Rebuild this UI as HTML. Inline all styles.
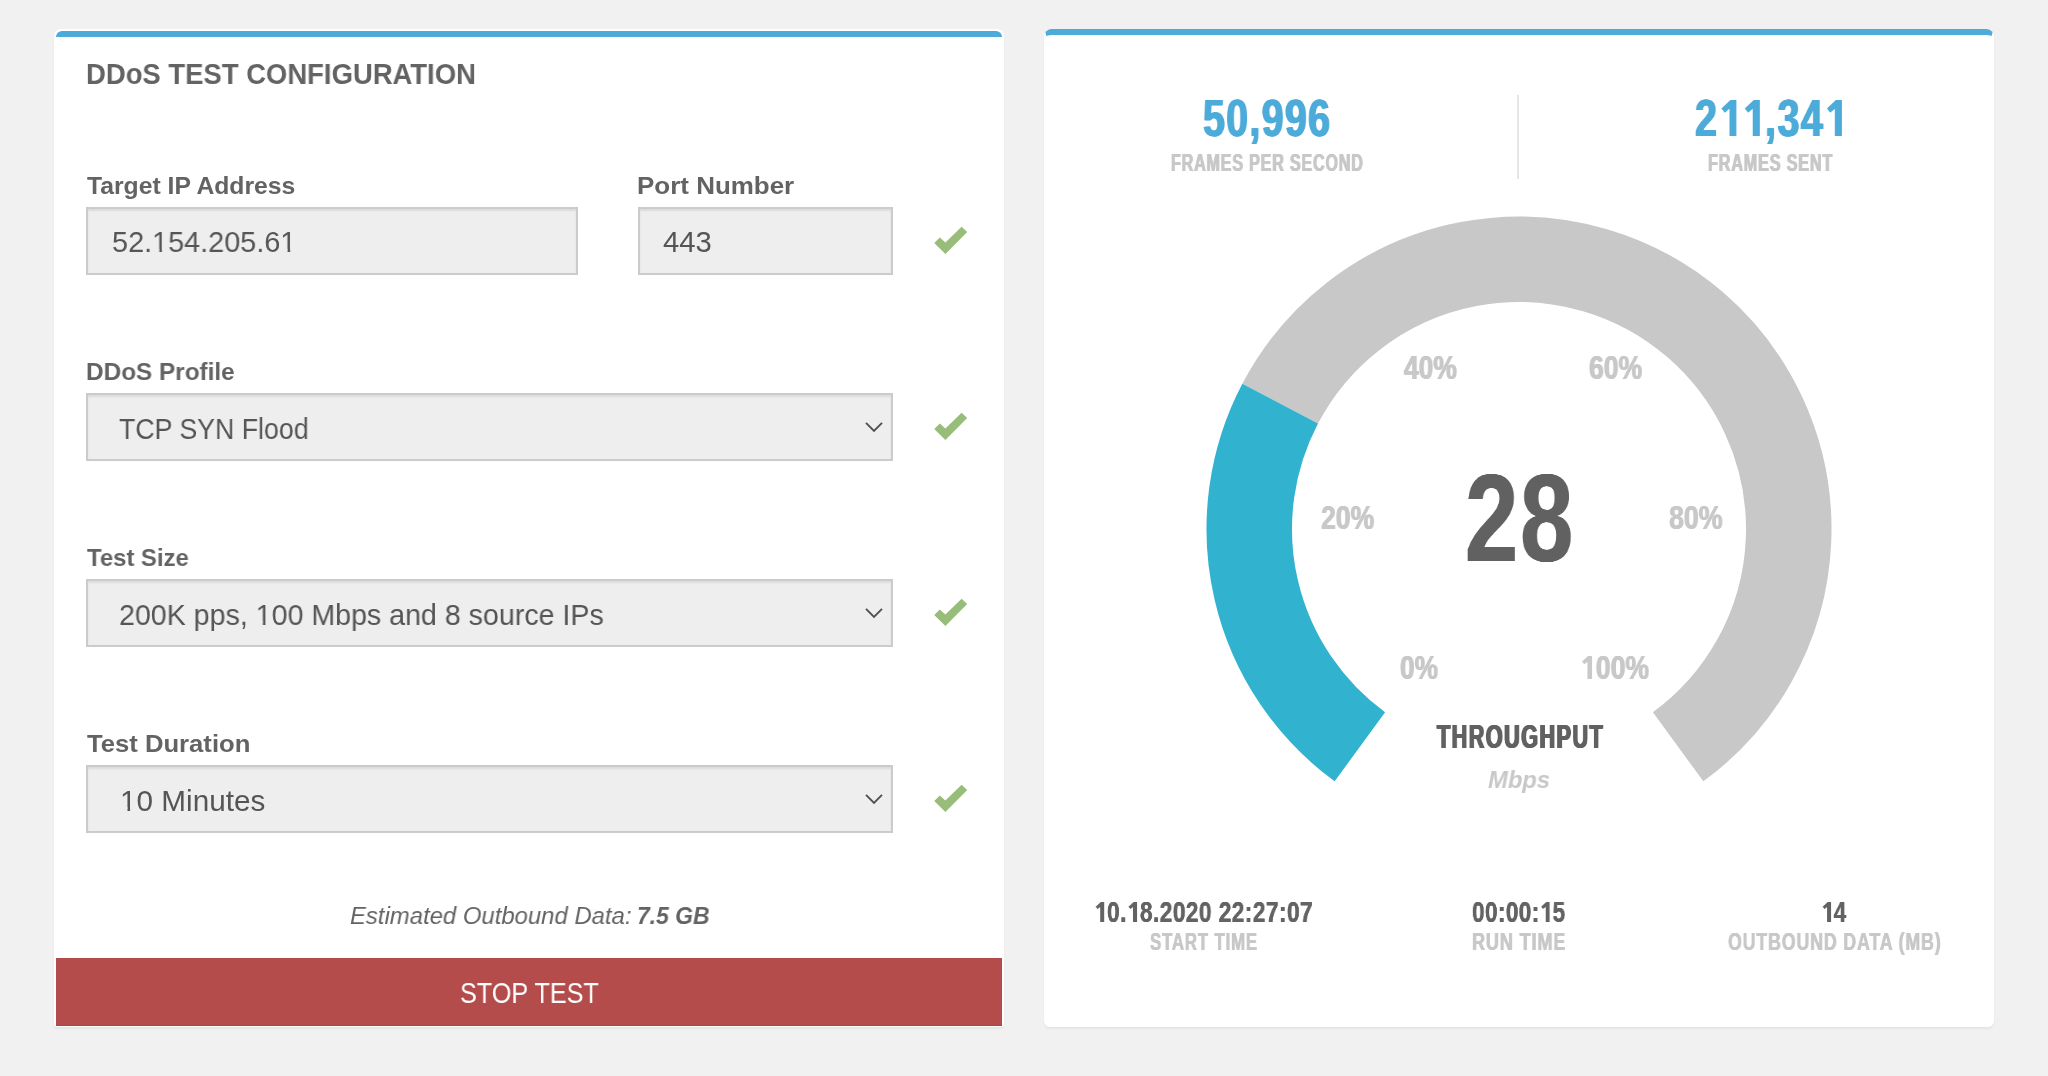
<!DOCTYPE html>
<html lang="en">
<head>
<meta charset="utf-8">
<title>DDoS Test</title>
<style>
html,body{margin:0;padding:0}
body{width:2048px;height:1076px;background:#f1f1f1;position:relative;overflow:hidden;font-family:"Liberation Sans",sans-serif}
.t{position:absolute;white-space:nowrap;line-height:1;transform-origin:0 0;display:block;will-change:transform}
.t b{font-weight:bold}
i.q{font-style:normal;display:inline-block;line-height:1;clip-path:polygon(0 0,.340em 0,.340em 100%,.2515em 100%,.2515em .72em,0 .72em)}
i.h{font-size:0}
svg.o{display:inline-block;vertical-align:baseline;width:.556em;height:var(--h,.688em);fill:currentColor}
.panel{position:absolute;background:#fff;box-shadow:0 2px 2px rgba(0,0,0,.05)}
#cfg{left:54px;top:29px;width:950px;height:998px;border-radius:7px 7px 3px 3px}
#cfg .bar{position:absolute;left:2px;top:2px;width:946px;height:6px;background:#4cabd9;border-radius:6px 6px 0 0}
#stats{left:1044px;top:29px;width:946px;height:990px;border:2px solid #fff;border-top:6px solid #4cabd9;border-radius:8px 8px 6px 6px}
.fld{position:absolute;box-sizing:border-box;height:68px;background:#eee;border:2px solid #cbcbcb;box-shadow:inset 0 2px 2px rgba(0,0,0,.075)}
.ok{position:absolute;left:879px}
.chev{position:absolute;right:7px;top:26px}
#stopbtn{position:absolute;left:2px;top:929px;width:946px;height:68px;box-sizing:border-box;background:#b34c4b;border-bottom:1px solid #a94442}
#divider{position:absolute;left:471px;top:60px;width:2px;height:84px;background:#e6e6e6}
#gauge{position:absolute;left:0;top:0}
</style>
</head>
<body>
<div class="panel" id="cfg">
<div class="bar"></div>
<span class="t" id="title" style="left:32.11px;top:31.00px;font-size:29.0px;font-weight:bold;color:#636363;transform:scaleX(0.9466)">DDoS TEST CONFIGURATION</span>
<span class="t" id="l1" style="left:32.80px;top:145.00px;font-size:24.5px;font-weight:bold;color:#636363;transform:scaleX(1.0087)">Target IP Address</span>
<div class="fld" style="left:32px;top:178px;width:492px"></div>
<span class="t" id="v1" style="left:58.11px;top:199.00px;font-size:29.0px;color:#555555;transform:scaleX(0.9938)">52.<i class="q">1</i>54.205.6<i class="q">1</i></span>
<span class="t" id="l1b" style="left:582.88px;top:145.00px;font-size:24.5px;font-weight:bold;color:#636363;transform:scaleX(1.0596)">Port Number</span>
<div class="fld" style="left:584px;top:178px;width:255px"></div>
<span class="t" id="v1b" style="left:609.19px;top:199.00px;font-size:29.0px;color:#555555;transform:scaleX(1.0087)">443</span>
<svg class="ok" style="top:197px" width="36" height="30" viewBox="0 0 36 30"><path d="M28.6 0.8L34.2 6.1L12.4 28L1.25 16.9L6.8 11.4L12.4 16.4Z" fill="#98bc7a"/></svg>
<span class="t" id="l2" style="left:31.76px;top:331.00px;font-size:24.5px;font-weight:bold;color:#636363;transform:scaleX(0.9932)">DDoS Profile</span>
<div class="fld" style="left:32px;top:364px;width:807px"><svg class="chev" width="20" height="12" viewBox="0 0 20 12"><path d="M2 1.8L10 9.8L18 1.8" fill="none" stroke="#505050" stroke-width="1.9"/></svg></div>
<span class="t" id="v2" style="left:65.09px;top:384.80px;font-size:29.5px;color:#555555;transform:scaleX(0.9058)">TCP SYN Flood</span>
<svg class="ok" style="top:383px" width="36" height="30" viewBox="0 0 36 30"><path d="M28.6 0.8L34.2 6.1L12.4 28L1.25 16.9L6.8 11.4L12.4 16.4Z" fill="#98bc7a"/></svg>
<span class="t" id="l3" style="left:33.00px;top:517.00px;font-size:24.5px;font-weight:bold;color:#636363;transform:scaleX(0.9750)">Test Size</span>
<div class="fld" style="left:32px;top:550px;width:807px"><svg class="chev" width="20" height="12" viewBox="0 0 20 12"><path d="M2 1.8L10 9.8L18 1.8" fill="none" stroke="#505050" stroke-width="1.9"/></svg></div>
<span class="t" id="v3" style="left:65.43px;top:570.80px;font-size:29.5px;color:#555555;transform:scaleX(0.9691)">200K pps, <i class="q">1</i>00 Mbps and 8 source IPs</span>
<svg class="ok" style="top:569px" width="36" height="30" viewBox="0 0 36 30"><path d="M28.6 0.8L34.2 6.1L12.4 28L1.25 16.9L6.8 11.4L12.4 16.4Z" fill="#98bc7a"/></svg>
<span class="t" id="l4" style="left:32.80px;top:703.00px;font-size:24.5px;font-weight:bold;color:#636363;transform:scaleX(1.0465)">Test Duration</span>
<div class="fld" style="left:32px;top:736px;width:807px"><svg class="chev" width="20" height="12" viewBox="0 0 20 12"><path d="M2 1.8L10 9.8L18 1.8" fill="none" stroke="#505050" stroke-width="1.9"/></svg></div>
<span class="t" id="v4" style="left:65.58px;top:757.00px;font-size:29.5px;color:#555555;transform:scaleX(1.0071)"><i class="q">1</i>0 Minutes</span>
<svg class="ok" style="top:755px" width="36" height="30" viewBox="0 0 36 30"><path d="M28.6 0.8L34.2 6.1L12.4 28L1.25 16.9L6.8 11.4L12.4 16.4Z" fill="#98bc7a"/></svg>
<span class="t" id="est" style="left:295.53px;top:874.80px;font-size:24.5px;font-style:italic;color:#636363;transform:scaleX(0.9749)">Estimated Outbound Data:</span>
<span class="t" id="est2" style="left:582.59px;top:874.80px;font-size:24.0px;font-weight:bold;font-style:italic;color:#636363;transform:scaleX(0.9534)">7.5 GB</span>
<div id="stopbtn"></div>
<span class="t" id="stop" style="left:405.63px;top:950.20px;font-size:29.0px;color:#ffffff;transform:scaleX(0.8703)">STOP TEST</span>
</div>
<div class="panel" id="stats">
<svg id="gauge" width="946" height="990" viewBox="1046 35 946 990">
<path d="M1280.17 403.61A269.75 269.75 0 1 1 1678.13 746.82" fill="none" stroke="#c8c8c8" stroke-width="85.5"/>
<path d="M1359.87 746.82A269.75 269.75 0 0 1 1280.17 403.61" fill="none" stroke="#31b2cf" stroke-width="85.5"/>
</svg>
<div id="divider"></div>
<span class="t" id="fps" style="left:156.95px;top:56.70px;font-size:52.5px;font-weight:bold;color:#4cabd9;letter-spacing:0.035em;text-shadow:1.00px 0 0 #4cabd9,-1.00px 0 0 #4cabd9;transform:scaleX(0.7482)">50,996</span>
<span class="t" id="fpsl" style="left:124.53px;top:116.70px;font-size:23.5px;font-weight:bold;color:#c8c8c8;letter-spacing:0.05em;text-shadow:0.73px 0 0 #c8c8c8,-0.73px 0 0 #c8c8c8;transform:scaleX(0.6852)">FRAMES PER SECOND</span>
<span class="t" id="fs" style="left:648.54px;top:56.70px;font-size:52.5px;font-weight:bold;color:#4cabd9;--h:36px;letter-spacing:0.035em;text-shadow:1.00px 0 0 #4cabd9,-1.00px 0 0 #4cabd9;transform:scaleX(0.7534)">2<i class="h">1</i><svg class="o" viewBox="0 0 100 100" preserveAspectRatio="none"><path d="M75 0H47.8L7 23.8L22.3 35.5L43.4 24.5V100H75Z"/></svg><i class="h">1</i><svg class="o" viewBox="0 0 100 100" preserveAspectRatio="none"><path d="M75 0H47.8L7 23.8L22.3 35.5L43.4 24.5V100H75Z"/></svg>,34<i class="h">1</i><svg class="o" viewBox="0 0 100 100" preserveAspectRatio="none"><path d="M75 0H47.8L7 23.8L22.3 35.5L43.4 24.5V100H75Z"/></svg></span>
<span class="t" id="fsl" style="left:661.72px;top:116.70px;font-size:23.5px;font-weight:bold;color:#c8c8c8;letter-spacing:0.05em;text-shadow:0.72px 0 0 #c8c8c8,-0.72px 0 0 #c8c8c8;transform:scaleX(0.6899)">FRAMES SENT</span>
<span class="t" id="p40" style="left:358.10px;top:316.00px;font-size:33.5px;font-weight:bold;color:#c8c8c8;text-shadow:0.64px 0 0 #c8c8c8,-0.64px 0 0 #c8c8c8;transform:scaleX(0.7864)">40%</span>
<span class="t" id="p60" style="left:542.61px;top:316.00px;font-size:33.5px;font-weight:bold;color:#c8c8c8;text-shadow:0.63px 0 0 #c8c8c8,-0.63px 0 0 #c8c8c8;transform:scaleX(0.7923)">60%</span>
<span class="t" id="p20" style="left:275.19px;top:465.80px;font-size:33.0px;font-weight:bold;color:#c8c8c8;text-shadow:0.62px 0 0 #c8c8c8,-0.62px 0 0 #c8c8c8;transform:scaleX(0.8062)">20%</span>
<span class="t" id="big" style="left:418.62px;top:420.70px;font-size:124.0px;font-weight:bold;color:#616161;letter-spacing:0.02em;text-shadow:0.65px 0 0 #616161,-0.65px 0 0 #616161;transform:scaleX(0.7707)">28</span>
<span class="t" id="p80" style="left:623.19px;top:465.80px;font-size:33.0px;font-weight:bold;color:#c8c8c8;text-shadow:0.62px 0 0 #c8c8c8,-0.62px 0 0 #c8c8c8;transform:scaleX(0.8109)">80%</span>
<span class="t" id="p0" style="left:354.22px;top:616.00px;font-size:33.5px;font-weight:bold;color:#c8c8c8;text-shadow:0.64px 0 0 #c8c8c8,-0.64px 0 0 #c8c8c8;transform:scaleX(0.7830)">0%</span>
<span class="t" id="p100" style="left:535.11px;top:616.00px;font-size:33.5px;font-weight:bold;color:#c8c8c8;--h:23px;text-shadow:0.63px 0 0 #c8c8c8,-0.63px 0 0 #c8c8c8;transform:scaleX(0.7940)"><i class="h">1</i><svg class="o" viewBox="0 0 100 100" preserveAspectRatio="none"><path d="M75 0H47.8L7 23.8L22.3 35.5L43.4 24.5V100H75Z"/></svg>00%</span>
<span class="t" id="thr" style="left:390.55px;top:684.80px;font-size:33.0px;font-weight:bold;color:#616161;letter-spacing:0.07em;text-shadow:1.15px 0 0 #616161,-1.15px 0 0 #616161;transform:scaleX(0.6534)">THROUGHPUT</span>
<span class="t" id="mbps" style="left:442.33px;top:733.00px;font-size:24.5px;font-weight:bold;font-style:italic;color:#c8c8c8;transform:scaleX(0.9710)">Mbps</span>
<span class="t" id="st" style="left:48.49px;top:862.60px;font-size:29.0px;font-weight:bold;color:#636363;--h:20px;letter-spacing:0.02em;text-shadow:0.32px 0 0 #636363,-0.32px 0 0 #636363;transform:scaleX(0.7815)"><i class="h">1</i><svg class="o" viewBox="0 0 100 100" preserveAspectRatio="none"><path d="M75 0H47.8L7 23.8L22.3 35.5L43.4 24.5V100H75Z"/></svg>0.<i class="h">1</i><svg class="o" viewBox="0 0 100 100" preserveAspectRatio="none"><path d="M75 0H47.8L7 23.8L22.3 35.5L43.4 24.5V100H75Z"/></svg>8.2020 22:27:07</span>
<span class="t" id="stl" style="left:104.15px;top:894.70px;font-size:24.0px;font-weight:bold;color:#c8c8c8;letter-spacing:0.05em;text-shadow:0.50px 0 0 #c8c8c8,-0.50px 0 0 #c8c8c8;transform:scaleX(0.7000)">START TIME</span>
<span class="t" id="rt" style="left:426.17px;top:862.60px;font-size:29.0px;font-weight:bold;color:#636363;--h:20px;letter-spacing:0.02em;text-shadow:0.32px 0 0 #636363,-0.32px 0 0 #636363;transform:scaleX(0.7754)">00:00:<i class="h">1</i><svg class="o" viewBox="0 0 100 100" preserveAspectRatio="none"><path d="M75 0H47.8L7 23.8L22.3 35.5L43.4 24.5V100H75Z"/></svg>5</span>
<span class="t" id="rtl" style="left:426.05px;top:894.70px;font-size:24.0px;font-weight:bold;color:#c8c8c8;letter-spacing:0.05em;text-shadow:0.47px 0 0 #c8c8c8,-0.47px 0 0 #c8c8c8;transform:scaleX(0.7508)">RUN TIME</span>
<span class="t" id="od" style="left:775.21px;top:862.60px;font-size:29.0px;font-weight:bold;color:#636363;--h:20px;letter-spacing:0.02em;text-shadow:0.33px 0 0 #636363,-0.33px 0 0 #636363;transform:scaleX(0.7677)"><i class="h">1</i><svg class="o" viewBox="0 0 100 100" preserveAspectRatio="none"><path d="M75 0H47.8L7 23.8L22.3 35.5L43.4 24.5V100H75Z"/></svg>4</span>
<span class="t" id="odl" style="left:682.31px;top:894.70px;font-size:24.0px;font-weight:bold;color:#c8c8c8;letter-spacing:0.05em;text-shadow:0.47px 0 0 #c8c8c8,-0.47px 0 0 #c8c8c8;transform:scaleX(0.7385)">OUTBOUND DATA (MB)</span>
</div>
</body>
</html>
